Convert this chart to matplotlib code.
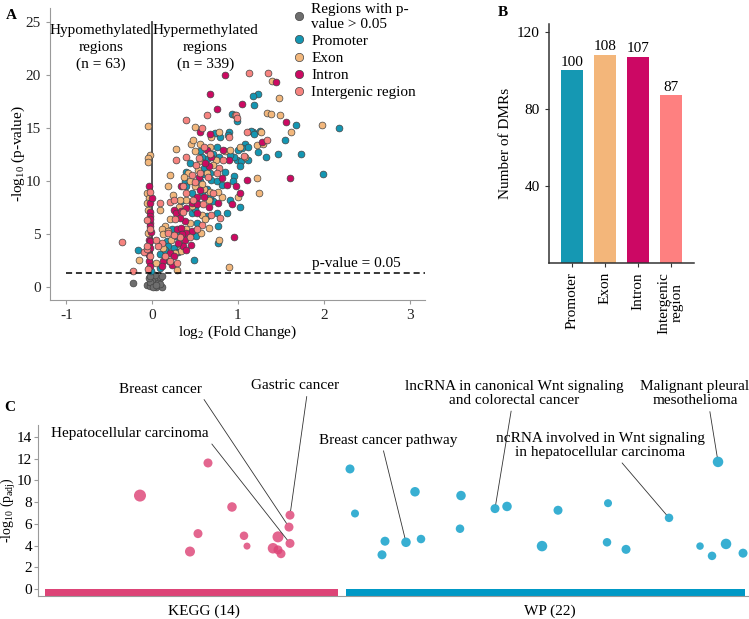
#Recreates the three-panel DMR figure: volcano plot, DMR counts per region, enrichment plot
import numpy as np
import matplotlib
matplotlib.use('Agg')
import matplotlib.pyplot as plt
from matplotlib.lines import Line2D

matplotlib.rcParams['font.family'] = 'Liberation Serif'
matplotlib.rcParams['font.size'] = 11
matplotlib.rcParams['mathtext.fontset'] = 'custom'
matplotlib.rcParams['mathtext.rm'] = 'Liberation Serif'
matplotlib.rcParams['mathtext.default'] = 'regular'
matplotlib.rcParams['axes.unicode_minus'] = False

# ---------------- data, panel A (log2 fold change, -log10 p) ----------------
ns_fc = [-0.22, -0.06, -0.02, 0.02, 0.05, 0.09, 0.11, 0.02, 0.0, 0.05, 0.12, 0.03, 0.07, -0.03,
         0.01, 0.09, -0.04, -0.02, 0.04]
ns_p = [0.4, 0.2, 0.12, 0.28, 0.6, 0.9, 1.1, 0.75, 0.6, 0.06, 0.06, 1.2, 0.45, 0.5,
        0.0, 0.28, 0.9, 1.1, 0.2]

promoter_fc = [1.23, 1.17, 1.19, 0.93, 0.99, 1.68, 2.18, 1.55, 1.47, 1.74, 1.33, 1.23, 1.17, 1.15,
               1.19, 0.89, 0.88, 0.79, 1.08, 1.05, 1.0, 0.99, 1.03, 1.12, 0.95, 0.91, 0.75, 0.56,
               0.71, 0.78, 0.64, 0.44, 0.6, 0.85, 0.95, 0.6, 0.69, 0.75, 0.94, 1.02, 0.64, 0.38,
               0.46, 0.71, 0.52, 0.34, 0.46, 0.64, 0.75, 0.77, 0.52, 0.23, 0.51, 0.28, 0.17, 0.19,
               0.25, 0.09, 0.77, 0.49, -0.17, -0.01, 1.99, 0.4, 0.56, 0.67, 0.81, 0.4, 0.58, 0.09,
               0.15, 0.33, 0.87, 0.67, 1.12, 1.02, 0.91, 1.26, 0.73, 0.2, 0.3, 0.58, 0.5]
promoter_p = [18.25, 17.97, 17.2, 16.3, 15.7, 15.3, 15.0, 13.9, 12.6, 12.6, 12.3, 12.75, 14.6, 14.75,
              14.4, 14.65, 14.3, 14.2, 13.5, 13.1, 12.9, 12.0, 11.9, 12.0, 12.3, 12.5, 13.25, 12.8,
              12.6, 12.3, 12.05, 11.7, 11.2, 10.9, 10.5, 10.7, 10.1, 10.0, 10.0, 7.6, 9.3, 10.0,
              8.9, 8.1, 7.9, 8.1, 7.0, 6.7, 7.0, 5.75, 6.05, 5.45, 4.8, 4.8, 4.35, 3.9,
              3.7, 3.1, 4.2, 2.6, 3.5, 1.5, 10.65, 9.5, 10.0, 10.75, 9.65, 10.9, 12.3, 1.85,
              3.55, 5.1, 7.0, 8.55, 13.25, 11.4, 8.25, 14.7, 14.55, 2.5, 3.3, 9.0, 7.4]

exon_fc = [1.40, 1.48, 0.97, 1.34, 1.49, 1.98, -0.05, 0.5, 1.62, 1.27, 0.78, 0.69, 1.22, 1.02,
           1.08, 0.85, 0.67, 0.56, 0.45, 0.28, 0.5, 0.74, 0.56, 0.54, 0.71, 1.0, 0.81, 0.77,
           0.5, 0.44, 0.66, 0.4, 0.31, 0.09, 0.21, 0.24, 0.58, 0.66, 0.44, 0.21, 0.15, 0.11,
           0.13, 0.4, 0.57, 0.22, 0.13, 0.31, 0.34, 0.27, 0.05, 0.29, 0.78, 0.9, 1.22, 1.24,
           -0.15, -0.03, -0.05, -0.05, -0.06, -0.04, -0.05, -0.05, -0.06, 0.48, 0.33, 0.67, 0.91,
           0.64, 0.42, 0.19, 1.29, 0.37, 0.6, 0.47, 0.18, 0.62, 1.38, 0.58]
exon_p = [19.4, 17.8, 16.2, 16.45, 16.2, 15.3, 15.2, 15.05, 14.65, 14.6, 14.65, 14.2, 13.4, 13.25,
          12.3, 12.8, 13.25, 13.5, 13.45, 13.0, 12.8, 12.0, 11.85, 11.05, 11.5, 8.55, 8.55, 9.0,
          9.5, 10.0, 8.25, 8.25, 7.6, 7.3, 10.6, 8.7, 6.85, 5.6, 6.05, 6.4, 5.75, 5.45,
          5.0, 5.45, 5.1, 4.5, 3.7, 4.05, 3.4, 3.25, 2.3, 1.6, 4.45, 1.9, 10.3, 8.85,
          2.55, 12.5, 12.15, 11.8, 8.9, 8.4, 7.3, 5.1, 7.9, 13.9, 8.25, 8.95, 12.9,
          10.75, 10.75, 9.5, 13.5, 10.4, 9.3, 7.7, 5.3, 6.4, 16.3, 9.7]

intron_fc = [0.85, 1.44, 0.67, 1.05, 0.75, 1.56, 0.67, 1.28, 0.82, 0.64, 0.89, 0.66, 0.81, 0.87,
             0.98, 1.02, 0.93, 0.56, 0.52, 0.6, 0.77, 0.66, 0.25, 0.28, 0.34, 0.4, 0.52, 0.38,
             0.33, 0.29, 0.34, 0.46, 0.38, 0.36, 0.4, 0.21, 0.13, 0.11, 0.23, 0.95, 1.61, -0.04,
             -0.02, -0.02, -0.03, -0.02, -0.03, -0.04, -0.02, -0.02, -0.05, -0.04, -0.02, 0.0, 0.34,
             0.46, 0.69, 0.4, 0.52, 0.25, 1.1, 0.56, -0.03, -0.01, -0.04, 0.3, 0.45, 0.35, 0.55, 0.62]
intron_p = [20.0, 19.3, 18.2, 17.25, 16.8, 15.55, 14.4, 13.7, 12.9, 12.9, 12.0, 11.4, 10.3, 9.65,
            9.5, 8.9, 7.8, 9.2, 8.55, 8.55, 7.9, 7.6, 7.3, 7.0, 7.15, 7.45, 7.0, 6.2,
            6.55, 5.45, 5.6, 5.3, 4.5, 3.9, 3.55, 3.25, 2.45, 2.0, 2.1, 4.75, 10.25, 9.55,
            7.9, 7.1, 6.7, 6.1, 5.75, 4.5, 4.35, 3.7, 3.25, 2.45, 2.0, 8.4, 9.5,
            7.95, 12.3, 5.1, 7.8, 2.95, 10.1, 14.65, 6.4, 5.2, 3.0, 4.2, 4.0, 5.0, 10.4, 11.7]

intergenic_fc = [1.13, 1.35, 0.64, 0.98, 0.39, 0.58, 1.11, 1.07, 0.6, 0.28, 0.83, 0.51, 0.78, 0.65,
                 0.71, 0.36, 0.4, 0.59, 0.48, 0.21, 0.09, 0.69, 0.79, 0.58, 0.27, 0.19, 0.52, 0.44,
                 0.33, 0.11, 0.07, 0.15, 0.21, 0.29, -0.35, -0.22, -0.09, -0.06, -0.06, -0.02, -0.06,
                 -0.02, -0.05, -0.02, 0.46, 0.56, 0.75, 0.4, 0.67, 0.89, 0.05, 0.25, 0.99, 1.34,
                 0.5, 0.36, 0.26, 0.55]
intergenic_p = [20.2, 20.2, 16.2, 16.2, 15.8, 15.0, 14.6, 12.4, 13.25, 12.0, 12.0, 11.55, 11.2, 10.35,
                8.9, 9.5, 8.9, 7.8, 8.25, 8.05, 7.95, 6.85, 6.55, 5.9, 6.4, 5.1, 5.45, 4.75,
                4.75, 4.2, 3.9, 2.95, 2.45, 2.3, 4.3, 1.5, 3.3, 3.6, 6.3, 5.45, 3.9,
                2.95, 1.7, 8.95, 10.6, 10.75, 10.75, 12.3, 12.6, 14.2, 4.5, 8.25, 15.95, 13.9,
                9.9, 7.1, 4.9, 12.2]

# ---------------- data, panel B ----------------
regions = ['Promoter', 'Exon', 'Intron', 'Intergenic\nregion']
dmr_counts = [100, 108, 107, 87]

# ---------------- data, panel C (term position, -log10 p_adj, term size) ----------------
kegg_x = [102, 170, 160, 152, 194, 206, 209, 240, 235, 240, 243, 251, 252, 252]
kegg_p = [8.6, 11.6, 5.1, 3.45, 7.55, 4.9, 3.95, 4.8, 3.75, 3.6, 3.25, 5.7, 6.8, 4.2]
kegg_size = [12, 9, 9, 10, 9.5, 8.5, 7, 11, 10.5, 9, 9, 9, 9, 9]
wp_x = [312, 317, 344, 347, 368, 377, 383, 423, 422, 457, 469, 504, 520, 570, 569, 588,
        631, 680, 662, 674, 688, 705]
wp_p = [11.05, 6.95, 3.15, 4.4, 4.3, 8.95, 4.6, 8.6, 5.55, 7.4, 7.6, 3.95, 7.25, 7.9, 4.3, 3.65,
        6.55, 11.7, 3.95, 3.05, 4.15, 3.3]
wp_size = [9, 8, 9, 9, 9.5, 9.5, 8.5, 9.5, 8.5, 9, 9.5, 10.5, 9, 8, 8.5, 9, 8.5, 10.5, 7.5,
           8.5, 10.5, 9]
source_names = ['KEGG (14)', 'WP (22)']
source_span = [(7, 300), (308, 707)]

# labelled terms: (source, index of point, label, text x, text y, relpos of line start)
labels_c = [('kegg', 11, 'Breast cancer', 122, 18.4, (1.0, 0.0)),
            ('kegg', 12, 'Gastric cancer', 257, 18.7, (0.64, 0.0)),
            ('kegg', 13, 'Hepatocellular carcinoma', 92, 14.3, (1.0, 0.0)),
            ('wp', 4, 'Breast cancer pathway', 350, 13.7, (0.46, 0.0)),
            ('wp', 9, 'lncRNA in canonical Wnt signaling\nand colorectal cancer', 476, 18.0, (0.49, 0.0)),
            ('wp', 16, 'ncRNA involved in Wnt signaling\nin hepatocellular carcinoma', 562, 13.2, (0.59, 0.0)),
            ('wp', 17, 'Malignant pleural\nmesothelioma', 657, 17.95, (0.63, 0.0))]

col_ns = '#6e6e6e'
col_prom = '#1496b2'
col_exon = '#f2b77c'
col_intron = '#cc0a62'
col_inter = '#f6837f'
bar_cols = ['#1598b3', '#f3b67a', '#cc0864', '#fe8080']
kegg_col = '#dd4477'
wp_col = '#0099c6'

fig = plt.figure(figsize=(7.49, 6.19), dpi=100)

# ================= panel A =================
axA = fig.add_axes([0.0668, 0.5153, 0.5007, 0.4717])
pt = dict(s=24, edgecolors='#444444', linewidths=0.5, zorder=3)
axA.scatter(ns_fc, ns_p, c=col_ns, **pt)
axA.scatter(promoter_fc, promoter_p, c=col_prom, **pt)
axA.scatter(exon_fc, exon_p, c=col_exon, **pt)
axA.scatter(intron_fc, intron_p, c=col_intron, **pt)
axA.scatter(intergenic_fc, intergenic_p, c=col_inter, **pt)
axA.plot([0, 0], [0, 25], color='#444444', lw=1.3, zorder=2)
axA.plot([-1, 3.18], [1.3, 1.3], color='black', lw=1.1, ls=(0, (4, 2.5)), zorder=4)
axA.text(-0.6, 22.6, 'Hypomethylated\nregions\n(n = 63)', ha='center', va='center', linespacing=1.35)
axA.text(0.62, 22.6, 'Hypermethylated\nregions\n(n = 339)', ha='center', va='center', linespacing=1.35)
axA.text(2.38, 2.2, 'p-value = 0.05', ha='center', va='center')
axA.set_xlim(-1.19, 3.18)
axA.set_ylim(-1.2, 26.3)
axA.set_xticks([-1, 0, 1, 2, 3])
axA.set_yticks([0, 5, 10, 15, 20, 25])
axA.set_xlabel('log$_2$ (Fold Change)', labelpad=1)
axA.set_ylabel('-log$_{10}$ (p-value)', labelpad=-1)
for s in ['top', 'right']:
    axA.spines[s].set_visible(False)
for s in ['left', 'bottom']:
    axA.spines[s].set_color('#9a9a9a')
axA.tick_params(color='#9a9a9a', length=3, labelcolor='#222222')

handles = [Line2D([], [], ls='', marker='o', ms=6, mfc=c, mec='#444444', mew=0.5)
           for c in [col_ns, col_prom, col_exon, col_intron, col_inter]]
fig.legend(handles, ['Regions with p-\nvalue > 0.05', 'Promoter', 'Exon', 'Intron', 'Intergenic region'],
           loc='upper left', bbox_to_anchor=(0.39, 0.9955), frameon=False, handletextpad=0.35,
           handlelength=0.9, labelspacing=0.22, borderaxespad=0, borderpad=0)

# ================= panel B =================
axB = fig.add_axes([0.733, 0.5751, 0.1936, 0.386])
xb = np.arange(len(regions))
bars = axB.bar(xb, dmr_counts, width=0.67, color=bar_cols)
for xi, v in zip(xb, dmr_counts):
    axB.text(xi, v + 0.8, str(v), ha='center', va='bottom')
axB.set_xlim(-0.69, 3.71)
axB.set_ylim(0, 124)
axB.set_yticks([40, 80, 120])
axB.set_xticks(xb)
axB.set_xticklabels(regions, rotation=90, va='top', linespacing=1.0)
axB.set_ylabel('Number of DMRs', labelpad=4)
for s in ['top', 'right']:
    axB.spines[s].set_visible(False)
for s in ['left', 'bottom']:
    axB.spines[s].set_color('#333333')
    axB.spines[s].set_linewidth(1.1)
axB.tick_params(color='#333333', length=3)

# ================= panel C =================
axC = fig.add_axes([0.0507, 0.0372, 0.948, 0.2763])
axC.scatter(kegg_x, kegg_p, s=np.array(kegg_size) ** 2 * 0.52, c=kegg_col, alpha=0.82,
            edgecolors='none', zorder=3)
axC.scatter(wp_x, wp_p, s=np.array(wp_size) ** 2 * 0.52, c=wp_col, alpha=0.78,
            edgecolors='none', zorder=3)
for (x0, x1), c in zip(source_span, [kegg_col, wp_col]):
    axC.bar((x0 + x1) / 2, 0.64, width=x1 - x0, bottom=-0.64, color=c, zorder=2)

pts = {'kegg': (kegg_x, kegg_p, kegg_size), 'wp': (wp_x, wp_p, wp_size)}
for src, i, lab, tx, ty, rp in labels_c:
    xs, ys, ss = pts[src]
    axC.annotate(lab, xy=(xs[i], ys[i]), xytext=(tx, ty), ha='center', va='center',
                 annotation_clip=False, linespacing=1.1,
                 arrowprops=dict(arrowstyle='-', color='#333333', lw=0.6, relpos=rp,
                                 shrinkA=1, shrinkB=ss[i] * 0.36))
axC.set_xlim(0, 710)
axC.set_ylim(-0.64, 15.1)
axC.set_yticks(np.arange(0, 15, 2))
axC.set_xticks([166, 512])
axC.set_xticklabels(source_names)
axC.tick_params(axis='x', length=0, pad=6)
axC.tick_params(axis='y', color='#9a9a9a', length=3, pad=1)
axC.set_ylabel('-log$_{10}$ (p$_{adj}$)', fontsize=10)
axC.yaxis.set_label_coords(-0.0285, 0.5)
for s in ['top', 'right']:
    axC.spines[s].set_visible(False)
for s in ['left', 'bottom']:
    axC.spines[s].set_color('#9a9a9a')

# panel letters
fig.text(0.008, 0.985, 'A', fontweight='bold', va='top')
fig.text(0.664, 0.99, 'B', fontweight='bold', va='top')
fig.text(0.006, 0.352, 'C', fontweight='bold', va='top')

plt.savefig('out.png', dpi=100)
plt.close()
